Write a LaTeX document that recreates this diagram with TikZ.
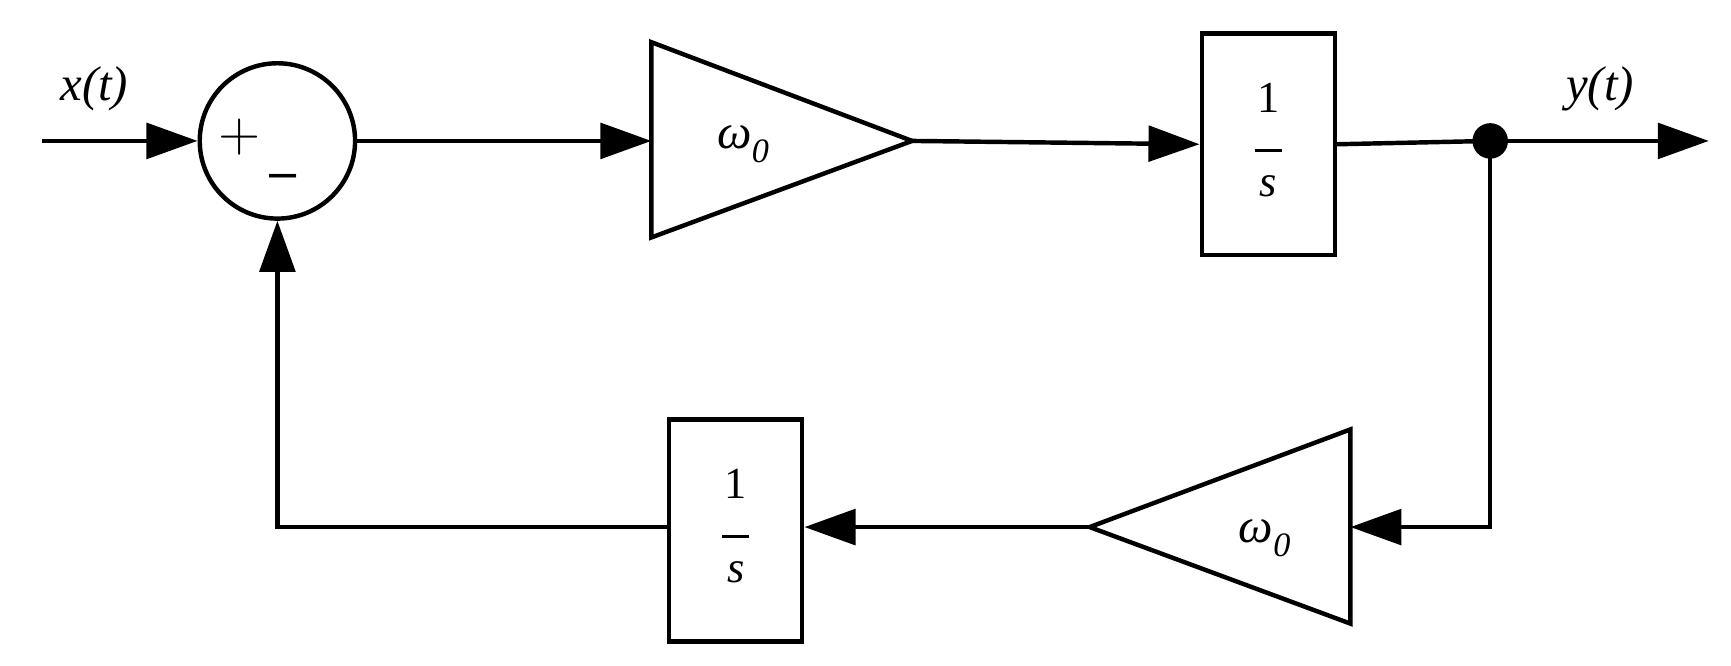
\documentclass[tikz,border=0pt]{standalone}
\usepackage{fontspec}
\setmainfont{Liberation Serif}
\usetikzlibrary{arrows.meta}
\newcommand{\myfrac}{\begin{tabular}{@{}c@{}}1\\[-10pt]\rule{24pt}{3pt}\\[-6pt]\textit{s}\end{tabular}}
\begin{document}
\begin{tikzpicture}[x=1pt,y=-1pt,line width=4pt,
  arr/.style={-{Triangle[length=46pt,width=32pt]}},
  lbl/.style={font=\fontsize{44}{50}\selectfont\itshape,inner sep=0pt},
  blk/.style={draw,minimum width=120pt,minimum height=200pt,inner sep=0pt,font=\fontsize{40}{46}\selectfont}]
\useasboundingbox (0,0) rectangle (1560,600);
\coordinate (in) at (38,127);
\node[draw,circle,minimum size=140pt,inner sep=0pt] (sum) at (250,127) {};
\node[font=\fontsize{52}{52}\selectfont\sffamily] at (216,124) {+};
\node[font=\fontsize{52}{52}\selectfont\sffamily] at (255,165) {\textendash};
\node[lbl] at (85,80) {x(t)};
\coordinate (t1l) at (587,127);
\draw (587,38) -- (822,127) coordinate (t1r) -- (587,214) -- cycle;
\node[lbl] at (670,130) {ω\textsubscript{0}};
\node[blk] (b1) at (1143,130) {\myfrac};
\fill (1343,127) circle (16pt);
\coordinate (dot) at (1343,127);
\coordinate (out) at (1540,127);
\node[lbl] at (1442,80) {y(t)};
\draw (1217,387) -- (982,475) coordinate (t2l) -- (1217,562) -- cycle;
\coordinate (t2r) at (1217,475);
\node[lbl] at (1140,485) {ω\textsubscript{0}};
\node[blk] (b2) at (663,478) {\myfrac};
\draw[arr] (in) -- (sum.west);
\draw[arr] (sum.east) -- (t1l);
\draw[arr] (t1r) -- (b1.west);
\draw (b1.east) -- (dot);
\draw[arr] (dot) -- (out);
\draw[arr] (dot) |- (t2r);
\draw[arr] (t2l) -- (b2.east |- t2l);
\draw[arr] (b2.west |- t2l) -| (sum.south);
\end{tikzpicture}
\end{document}
